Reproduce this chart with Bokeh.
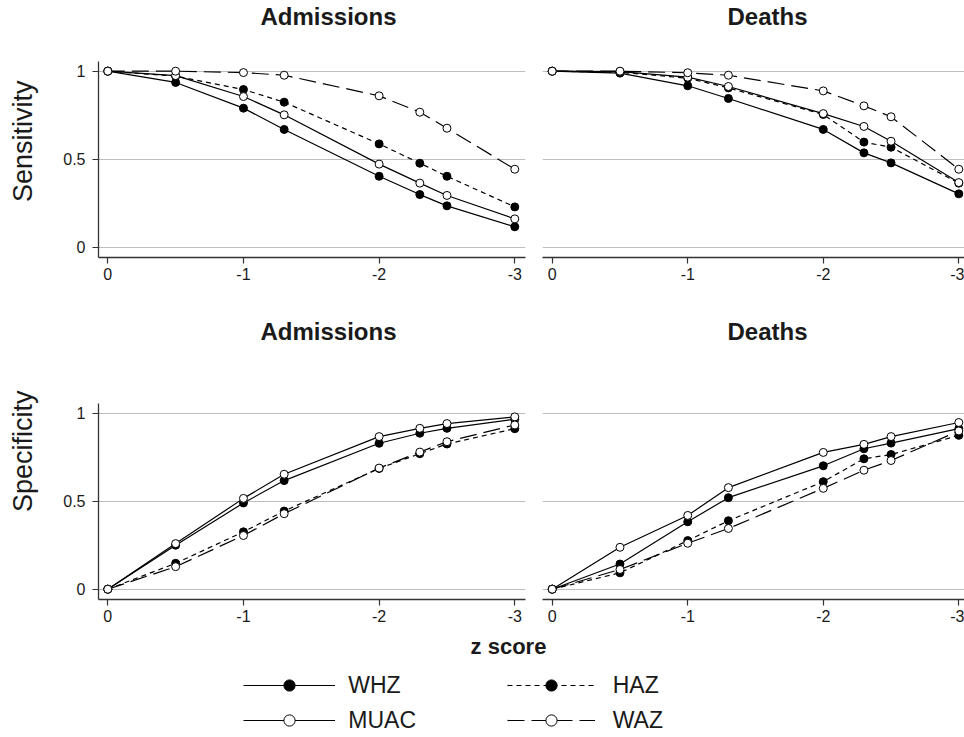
import math
from bokeh.plotting import figure
from bokeh.models import Range1d, FixedTicker, Label, Legend, LegendItem, Title
from bokeh.layouts import column, row
from bokeh.embed import file_html
from bokeh.resources import INLINE

FONT = "Liberation Sans"

# ---------------- data ----------------
z_cutoffs = [0, -0.5, -1, -1.3, -2, -2.3, -2.5, -3]
x_ticks = [0, -1, -2, -3]
x_tick_labels = ["0", "-1", "-2", "-3"]
y_ticks = [0, 0.5, 1]
y_tick_labels = ["0", "0.5", "1"]
indicators = ["WHZ", "MUAC", "HAZ", "WAZ"]
column_titles = ["Admissions", "Deaths"]
row_labels = ["Sensitivity", "Specificity"]
x_title = "z score"

sens_adm_whz = [1, 0.936, 0.790, 0.669, 0.403, 0.299, 0.235, 0.116]
sens_adm_muac = [1, 0.975, 0.856, 0.752, 0.472, 0.364, 0.294, 0.161]
sens_adm_haz = [1, 0.972, 0.896, 0.824, 0.587, 0.477, 0.403, 0.229]
sens_adm_waz = [1, 1.0, 0.992, 0.977, 0.860, 0.767, 0.676, 0.443]

sens_death_whz = [1, 0.989, 0.917, 0.845, 0.669, 0.536, 0.479, 0.303]
sens_death_muac = [1, 0.998, 0.966, 0.913, 0.759, 0.686, 0.602, 0.367]
sens_death_haz = [1, 0.994, 0.960, 0.905, 0.754, 0.597, 0.568, 0.364]
sens_death_waz = [1, 1.0, 0.991, 0.977, 0.888, 0.803, 0.741, 0.443]

spec_adm_whz = [0, 0.250, 0.490, 0.617, 0.829, 0.886, 0.914, 0.966]
spec_adm_muac = [0, 0.259, 0.516, 0.653, 0.867, 0.914, 0.941, 0.979]
spec_adm_haz = [0, 0.147, 0.326, 0.444, 0.686, 0.770, 0.825, 0.912]
spec_adm_waz = [0, 0.128, 0.305, 0.429, 0.688, 0.779, 0.838, 0.933]

spec_death_whz = [0, 0.143, 0.383, 0.520, 0.701, 0.798, 0.830, 0.912]
spec_death_muac = [0, 0.238, 0.419, 0.577, 0.777, 0.823, 0.867, 0.947]
spec_death_haz = [0, 0.093, 0.276, 0.389, 0.611, 0.741, 0.765, 0.874]
spec_death_waz = [0, 0.112, 0.261, 0.345, 0.573, 0.676, 0.731, 0.899]

panels = [
    [dict(WHZ=sens_adm_whz, MUAC=sens_adm_muac, HAZ=sens_adm_haz, WAZ=sens_adm_waz),
     dict(WHZ=sens_death_whz, MUAC=sens_death_muac, HAZ=sens_death_haz, WAZ=sens_death_waz)],
    [dict(WHZ=spec_adm_whz, MUAC=spec_adm_muac, HAZ=spec_adm_haz, WAZ=spec_adm_waz),
     dict(WHZ=spec_death_whz, MUAC=spec_death_muac, HAZ=spec_death_haz, WAZ=spec_death_waz)],
]

# ---------------- styles ----------------
styles = {
    "WHZ": dict(dash="solid", fill="black"),
    "MUAC": dict(dash="solid", fill="white"),
    "HAZ": dict(dash="5 4", fill="black"),
    "WAZ": dict(dash="17 7", fill="white"),
}
draw_order = ["WHZ", "HAZ", "MUAC", "WAZ"]

AXIS_COLOR = "#333333"
GRID_COLOR = "#bdbdbd"
TEXT_COLOR = "#1a1a1a"
Y_RANGE = (-0.0585, 1.055)

col_geo = [
    dict(width=488, mbl=53, mbr=8, xr=(0.0686, -3.079)),
    dict(width=431, mbl=9, mbr=0, xr=(0.0716, -3.042)),
]
row_geo = [
    dict(height=253, mbt=25, mbb=32),
    dict(height=252, mbt=24, mbb=32),
]


def blank(width, height, mbl=0):
    f = figure(width=width, height=height, output_backend="svg", toolbar_location=None,
               x_range=Range1d(0, 1), y_range=Range1d(0, 1),
               x_axis_location=None, y_axis_location=None,
               min_border_left=mbl, min_border_right=0, min_border_top=0,
               min_border_bottom=0)
    f.outline_line_color = None
    f.grid.visible = False
    return f


def make_panel(ri, ci):
    cg, rg = col_geo[ci], row_geo[ri]
    p = figure(width=cg["width"], height=rg["height"], output_backend="svg",
               toolbar_location=None,
               x_range=Range1d(*cg["xr"]), y_range=Range1d(*Y_RANGE),
               min_border_left=cg["mbl"], min_border_right=cg["mbr"],
               min_border_top=rg["mbt"], min_border_bottom=rg["mbb"],
               y_axis_location="left" if ci == 0 else None)
    p.outline_line_color = None
    p.xgrid.visible = False
    p.ygrid.ticker = FixedTicker(ticks=y_ticks)
    p.ygrid.grid_line_color = GRID_COLOR
    p.ygrid.grid_line_width = 1
    p.ygrid.minor_grid_line_color = None

    xa = p.xaxis[0]
    xa.ticker = FixedTicker(ticks=x_ticks)
    xa.major_label_overrides = dict(zip(x_ticks, x_tick_labels))
    xa.major_label_standoff = 4
    axes = [xa]
    if ci == 0:
        ya = p.yaxis[0]
        ya.ticker = FixedTicker(ticks=y_ticks)
        ya.major_label_overrides = dict(zip(y_ticks, y_tick_labels))
        ya.major_label_standoff = 7
        axes.append(ya)
    for ax in axes:
        ax.axis_line_color = AXIS_COLOR
        ax.axis_line_width = 1.3
        ax.major_tick_line_color = AXIS_COLOR
        ax.major_tick_line_width = 1.2
        ax.major_tick_out = 6
        ax.major_tick_in = 0
        ax.minor_tick_line_color = None
        ax.major_label_text_font = FONT
        ax.major_label_text_font_size = "16px"
        ax.major_label_text_color = TEXT_COLOR

    data = panels[ri][ci]
    for name in draw_order:
        p.line(z_cutoffs, data[name], line_color="black", line_width=1.2,
               line_dash=styles[name]["dash"])
    for name in draw_order:
        p.scatter(z_cutoffs, data[name], marker="circle", size=8,
                  fill_color=styles[name]["fill"], line_color="black", line_width=1)
    return p


def title_strip(height, baseline_y):
    s = blank(964, height)
    for text, cx in zip(column_titles, [328.0, 767.0]):
        s.add_layout(Label(x=cx, y=baseline_y, x_units="screen", y_units="screen",
                           text=text, text_align="center", text_baseline="alphabetic",
                           text_font=FONT, text_font_size="24px",
                           text_font_style="bold", text_color=TEXT_COLOR))
    return s


def ylabel_strip(height, text, offset):
    s = blank(45, height, mbl=38)
    s.add_layout(Title(text=text, align="right", offset=offset, vertical_align="middle",
                       standoff=0, text_font=FONT, text_font_size="27px",
                       text_font_style="normal", text_color=TEXT_COLOR), "left")
    return s


strip1 = title_strip(36, 20)
strip2 = title_strip(90, 48)
ylab1 = ylabel_strip(253, row_labels[0], 19)
ylab2 = ylabel_strip(252, row_labels[1], -13)

tl = make_panel(0, 0)
tr = make_panel(0, 1)
bl = make_panel(1, 0)
br = make_panel(1, 1)

# ---------------- legend / x title strip ----------------
lf = figure(width=964, height=104, output_backend="svg", toolbar_location=None,
            x_range=Range1d(10, 11), y_range=Range1d(10, 11),
            x_axis_location=None, y_axis_location=None,
            min_border_left=0, min_border_right=0, min_border_top=0, min_border_bottom=0)
lf.outline_line_color = None
lf.grid.visible = False

# legend glyph renderers (data lies outside this strip's ranges, so only the legend shows)
leg_r = {}
for name in indicators:
    st = styles[name]
    ln = lf.line(z_cutoffs, panels[0][0][name], line_color="black", line_width=1.2,
                 line_dash=st["dash"])
    sc = lf.scatter(z_cutoffs, panels[0][0][name], marker="circle", fill_color=st["fill"],
                    line_color="black", line_width=1)
    leg_r[name] = [ln, sc]

common = dict(orientation="vertical", glyph_height=28, label_height=28, spacing=7,
              padding=0, margin=0, label_text_font=FONT, label_text_font_size="23px",
              label_text_color=TEXT_COLOR, border_line_color=None,
              background_fill_alpha=0)
leg1 = Legend(items=[LegendItem(label="WHZ", renderers=leg_r["WHZ"]),
                     LegendItem(label="MUAC", renderers=leg_r["MUAC"])],
              location=(243.3, 1), glyph_width=92, label_standoff=13, **common)
leg2 = Legend(items=[LegendItem(label="HAZ", renderers=leg_r["HAZ"]),
                     LegendItem(label="WAZ", renderers=leg_r["WAZ"])],
              location=(506.7, 1), glyph_width=88, label_standoff=18, **common)
lf.add_layout(leg1)
lf.add_layout(leg2)
lf.add_layout(Label(x=508, y=89, x_units="screen", y_units="screen", text=x_title,
                    text_align="center", text_baseline="alphabetic", text_font=FONT,
                    text_font_size="22px", text_font_style="bold", text_color=TEXT_COLOR))

layout = column(strip1, row(ylab1, tl, tr), strip2, row(ylab2, bl, br), lf)
open("out.html", "w").write(file_html(layout, INLINE))
